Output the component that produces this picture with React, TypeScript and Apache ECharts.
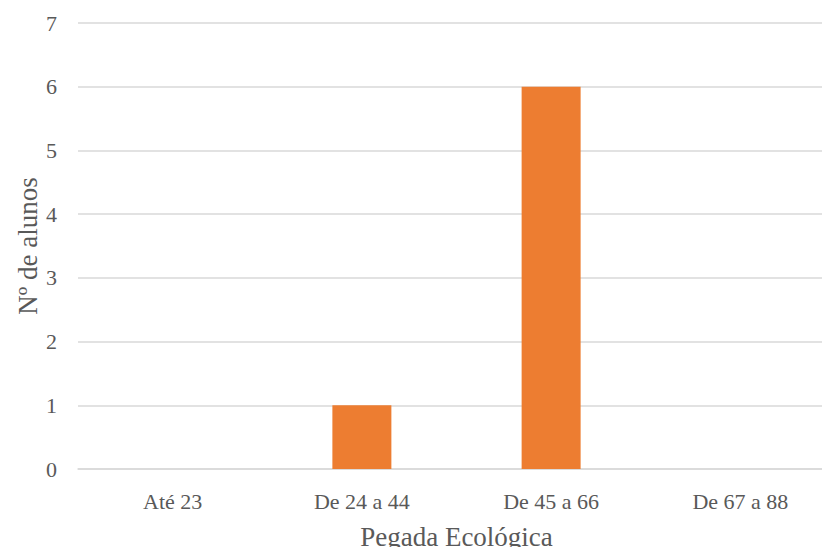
import React, { useEffect, useRef } from "react";
import * as echarts from "echarts";

const categories = ["Até 23", "De 24 a 44", "De 45 a 66", "De 67 a 88"];
const values = [0, 1, 6, 0];
const yTicks = [0, 1, 2, 3, 4, 5, 6, 7];

export default function App() {
  const ref = useRef<HTMLDivElement>(null);
  useEffect(() => {
    if (!ref.current) return;
    const chart = echarts.init(ref.current, null, { renderer: "svg" });
    chart.setOption({
      animation: false,
      backgroundColor: "#ffffff",
      grid: { left: 78, right: 0, top: 23, bottom: 78, containLabel: false, outerBoundsMode: "none" },
      xAxis: {
        type: "category",
        data: categories,
        name: "Pegada Ecológica",
        nameLocation: "middle",
        nameGap: 54,
        nameMoveOverlap: false,
        nameTextStyle: { fontFamily: "Liberation Serif", fontSize: 27, color: "#595959" },
        axisLine: { show: true, lineStyle: { color: "#d9d9d9", width: 1.5 } },
        axisTick: { show: false },
        axisLabel: { fontFamily: "Liberation Serif", fontSize: 22, color: "#595959", margin: 21 },
      },
      yAxis: {
        type: "value",
        min: yTicks[0],
        max: yTicks[yTicks.length - 1],
        interval: 1,
        name: "Nº de alunos",
        nameLocation: "middle",
        nameGap: 37,
        nameMoveOverlap: false,
        nameRotate: 90,
        nameTextStyle: { fontFamily: "Liberation Serif", fontSize: 27, color: "#595959" },
        axisLine: { show: false },
        axisTick: { show: false },
        axisLabel: { fontFamily: "Liberation Serif", fontSize: 22, color: "#595959", margin: 21 },
        splitLine: { lineStyle: { color: "#d9d9d9", width: 1.5 } },
      },
      series: [
        {
          type: "bar",
          data: values,
          barWidth: 59,
          itemStyle: { color: "#ED7D31" },
        },
      ],
    });
    return () => chart.dispose();
  }, []);
  return (
    <div style={{ position: "fixed", left: 0, top: 0, width: 822, height: 547, overflow: "hidden", background: "#fff" }}>
      <div ref={ref} style={{ position: "absolute", left: 0, top: 0, width: 835, height: 547 }} />
    </div>
  );
}
